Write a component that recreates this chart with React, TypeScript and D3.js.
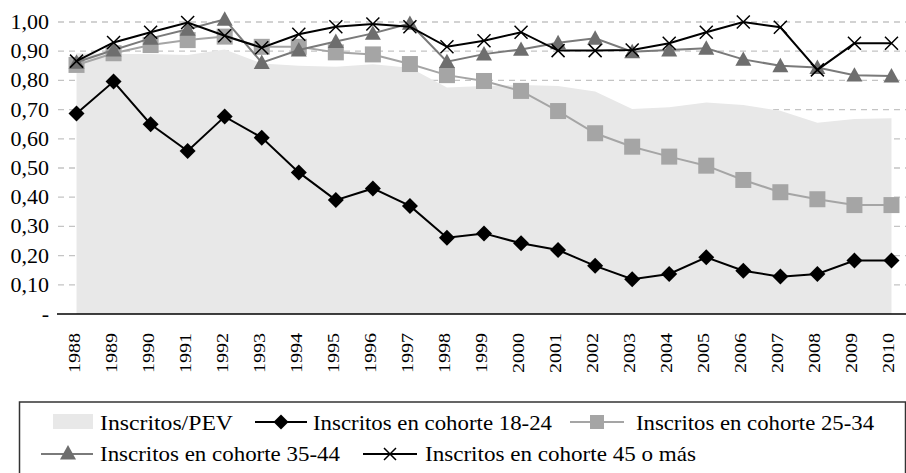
import { scaleLinear, scalePoint, line, area } from 'd3'

const years = [
  '1988', '1989', '1990', '1991', '1992', '1993', '1994', '1995', '1996', '1997', '1998',
  '1999', '2000', '2001', '2002', '2003', '2004', '2005', '2006', '2007', '2008', '2009', '2010',
]

const inscritosPev = [
  0.893, 0.89, 0.89, 0.887, 0.906, 0.858, 0.85, 0.847, 0.855, 0.843, 0.776, 0.781,
  0.784, 0.781, 0.762, 0.702, 0.708, 0.724, 0.716, 0.696, 0.655, 0.668, 0.67,
]

const cohorte1824 = [
  0.687, 0.796, 0.65, 0.558, 0.676, 0.604, 0.485, 0.39, 0.43, 0.37, 0.261, 0.276,
  0.242, 0.219, 0.165, 0.119, 0.137, 0.194, 0.148, 0.128, 0.137, 0.183, 0.183,
]

const cohorte2534 = [
  0.853, 0.893, 0.921, 0.938, 0.95, 0.915, 0.915, 0.896, 0.889, 0.856, 0.818, 0.798,
  0.764, 0.695, 0.619, 0.573, 0.539, 0.508, 0.459, 0.417, 0.393, 0.373, 0.373,
]

const cohorte3544 = [
  0.862, 0.904, 0.944, 0.975, 1.009, 0.861, 0.904, 0.933, 0.961, 0.995, 0.864, 0.89,
  0.906, 0.929, 0.944, 0.898, 0.904, 0.91, 0.872, 0.85, 0.844, 0.818, 0.815,
]

const cohorte45 = [
  0.866, 0.93, 0.965, 0.998, 0.953, 0.912, 0.958, 0.984, 0.993, 0.984, 0.915, 0.936,
  0.965, 0.902, 0.902, 0.904, 0.927, 0.965, 1.0, 0.982, 0.836, 0.927, 0.927,
]

const yTicks = [0, 0.1, 0.2, 0.3, 0.4, 0.5, 0.6, 0.7, 0.8, 0.9, 1.0]

const FONT = "'Liberation Serif', 'Times New Roman', Times, serif"

function Diamond({ x, y, r = 8, fill = '#000' }: { x: number; y: number; r?: number; fill?: string }) {
  return <path d={`M${x},${y - r}L${x + r},${y}L${x},${y + r}L${x - r},${y}Z`} fill={fill} />
}

function Square({ x, y, s = 8 }: { x: number; y: number; s?: number }) {
  return <rect x={x - s} y={y - s} width={s * 2} height={s * 2} fill="#a5a5a5" />
}

function Triangle({ x, y, s = 8 }: { x: number; y: number; s?: number }) {
  return <path d={`M${x},${y - s}L${x + s},${y + s * 0.8}L${x - s},${y + s * 0.8}Z`} fill="#6e6e6e" />
}

function Cross({ x, y, s = 6.5 }: { x: number; y: number; s?: number }) {
  return (
    <path d={`M${x - s},${y - s}L${x + s},${y + s}M${x + s},${y - s}L${x - s},${y + s}`} stroke="#000" strokeWidth={1.5} />
  )
}

export default function App() {
  const width = 906
  const height = 473
  const plotLeft = 58
  const plotRight = 910
  const x = scalePoint<string>().domain(years).range([plotLeft, plotRight]).padding(0.5)
  const y = scaleLinear().domain([0, 1]).range([314, 22])

  const px = (i: number) => x(years[i]) as number
  const lineGen = line<number>().x((_, i) => px(i)).y((d) => y(d))
  const areaGen = area<number>().x((_, i) => px(i)).y0(y(0)).y1((d) => y(d))

  return (
    <svg
      width={width}
      height={height}
      style={{ position: 'absolute', left: 0, top: 0, background: '#fff', fontFamily: FONT }}
    >
      {yTicks.map((t) => (
        <g key={t}>
          {t > 0 && (
            <line x1={plotLeft} x2={width} y1={y(t)} y2={y(t)} stroke="#c4c4c4" strokeWidth={1.3} strokeDasharray="6 5" />
          )}
          <text x={49} y={y(t) + 7} textAnchor="end" fontSize={22} fill="#000">
            {t === 0 ? '-' : t.toFixed(2).replace('.', ',')}
          </text>
        </g>
      ))}

      <path d={areaGen(inscritosPev) ?? ''} fill="#e8e8e8" />

      <line x1={plotLeft - 1} x2={width} y1={y(0)} y2={y(0)} stroke="#000" strokeWidth={1.6} />

      {years.map((yr, i) => (
        <text
          key={yr}
          transform={`translate(${px(i) + 3},333) rotate(-90)`}
          textAnchor="end"
          fontSize={17}
          textLength={40}
          lengthAdjust="spacingAndGlyphs"
        >
          {yr}
        </text>
      ))}

      <path d={lineGen(cohorte1824) ?? ''} fill="none" stroke="#000" strokeWidth={2} />
      {cohorte1824.map((v, i) => (
        <Diamond key={i} x={px(i)} y={y(v)} />
      ))}

      <path d={lineGen(cohorte2534) ?? ''} fill="none" stroke="#a5a5a5" strokeWidth={2} />
      {cohorte2534.map((v, i) => (
        <Square key={i} x={px(i)} y={y(v)} />
      ))}

      <path d={lineGen(cohorte3544) ?? ''} fill="none" stroke="#7a7a7a" strokeWidth={2} />
      {cohorte3544.map((v, i) => (
        <Triangle key={i} x={px(i)} y={y(v)} />
      ))}

      <path d={lineGen(cohorte45) ?? ''} fill="none" stroke="#000" strokeWidth={2} />
      {cohorte45.map((v, i) => (
        <Cross key={i} x={px(i)} y={y(v)} />
      ))}

      {/* legend */}
      <rect x={19.5} y={402} width={886} height={90} fill="#fff" stroke="#333" strokeWidth={1.5} />
      <g fontSize={22}>
        <rect x={53} y={414} width={40} height={15} fill="#e8e8e8" />
        <text x={100} y={430} textLength={133} lengthAdjust="spacingAndGlyphs">Inscritos/PEV</text>

        <line x1={255} x2={307} y1={422} y2={422} stroke="#000" strokeWidth={2} />
        <Diamond x={281} y={422} r={7.5} />
        <text x={313} y={430} textLength={239} lengthAdjust="spacingAndGlyphs">Inscritos en cohorte 18-24</text>

        <line x1={570} x2={624} y1={422} y2={422} stroke="#a5a5a5" strokeWidth={2} />
        <Square x={597} y={422} s={7} />
        <text x={636} y={430} textLength={238} lengthAdjust="spacingAndGlyphs">Inscritos en cohorte 25-34</text>

        <line x1={41} x2={93} y1={454} y2={454} stroke="#7a7a7a" strokeWidth={2} />
        <Triangle x={68} y={453} s={8} />
        <text x={100} y={461} textLength={240} lengthAdjust="spacingAndGlyphs">Inscritos en cohorte 35-44</text>

        <line x1={363} x2={417} y1={454} y2={454} stroke="#000" strokeWidth={2} />
        <Cross x={390} y={454} s={6} />
        <text x={425} y={461} textLength={271} lengthAdjust="spacingAndGlyphs">Inscritos en cohorte 45 o más</text>
      </g>
    </svg>
  )
}
